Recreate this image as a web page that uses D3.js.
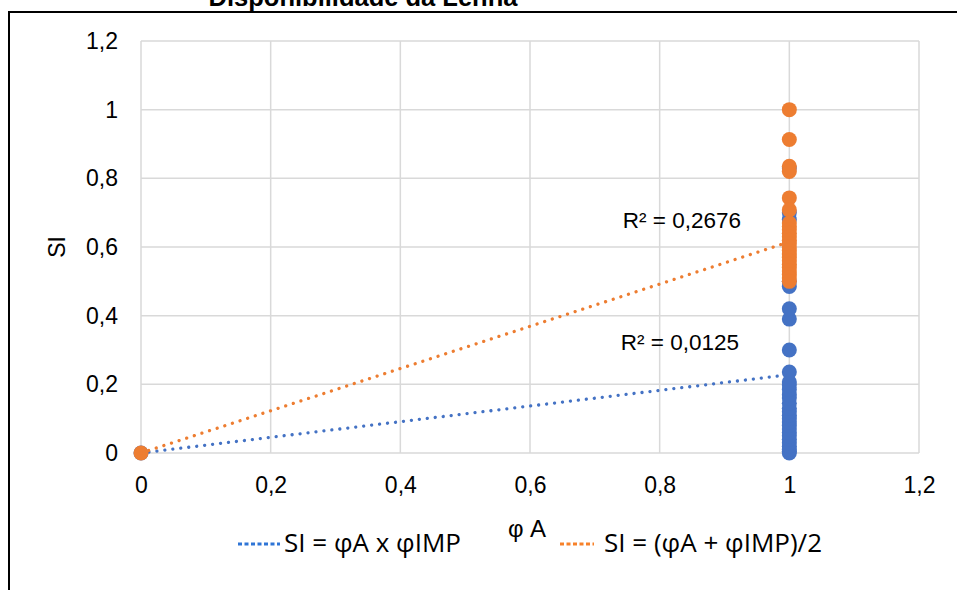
<!DOCTYPE html>
<html>
<head>
<meta charset="utf-8">
<script src="https://cdn.jsdelivr.net/npm/d3@7/dist/d3.min.js"></script>
<style>
  html, body { margin: 0; padding: 0; background: #fff; }
  svg { display: block; }
</style>
</head>
<body>
<svg id="chart" width="957" height="590"></svg>
<script>
// Chart text
const chartTitle = "Disponibilidade da Lenha";
const xAxisTitle = "φ A";
const yAxisTitle = "SI";

// Tick values and their labels (decimal comma)
const xTicks = [0, 0.2, 0.4, 0.6, 0.8, 1, 1.2];
const yTicks = [0, 0.2, 0.4, 0.6, 0.8, 1, 1.2];
const tickLabels = ["0", "0,2", "0,4", "0,6", "0,8", "1", "1,2"];

// Series 1: SI = φA x φIMP  (x, y)
const seriesMultX = [0, 1, 1, 1, 1, 1, 1, 1, 1, 1, 1, 1, 1, 1, 1, 1, 1, 1, 1, 1, 1, 1, 1, 1, 1, 1, 1, 1, 1, 1, 1];
const seriesMultY = [0, 0, 0.005, 0.01, 0.02, 0.03, 0.04, 0.05, 0.06, 0.07, 0.08, 0.09, 0.1, 0.11, 0.12, 0.13, 0.145, 0.16, 0.17, 0.185, 0.198, 0.207, 0.236, 0.30, 0.39, 0.42, 0.485, 0.50, 0.68, 0.70, 0.83];

// Series 2: SI = (φA + φIMP)/2  (x, y)
const seriesMeanX = [0, 1, 1, 1, 1, 1, 1, 1, 1, 1, 1, 1, 1, 1, 1, 1, 1, 1, 1, 1, 1, 1, 1, 1, 1];
const seriesMeanY = [0, 1.0, 0.913, 0.835, 0.82, 0.743, 0.708, 0.67, 0.66, 0.65, 0.64, 0.63, 0.62, 0.61, 0.60, 0.59, 0.58, 0.57, 0.56, 0.55, 0.54, 0.53, 0.52, 0.51, 0.50];

// Linear trendlines (endpoints x, y) and their R² labels
const trendMultX = [0, 1];
const trendMultY = [0, 0.228];
const trendMeanX = [0, 1];
const trendMeanY = [0, 0.615];
const r2Labels = ["R² = 0,0125", "R² = 0,2676"];

// Legend entries
const legendLabels = ["SI = φA x φIMP", "SI = (φA + φIMP)/2"];

const blue = "#4472C4";
const orange = "#ED7D31";

const svg = d3.select("#chart");
const margin = { left: 141, right: 957 - 919, top: 41, bottom: 590 - 453 };
const W = 957, H = 590;

const x = d3.scaleLinear().domain([0, 1.2]).range([margin.left, W - margin.right]);
const y = d3.scaleLinear().domain([0, 1.2]).range([H - margin.bottom, margin.top]);

// Outer chart frame
svg.append("path")
  .attr("d", `M9,${H + 5} L9,12 L${W + 5},12`)
  .attr("fill", "none")
  .attr("stroke", "#000")
  .attr("stroke-width", 2);

// Title, sitting above the frame's top edge
svg.append("text")
  .attr("x", 363).attr("y", 6)
  .attr("text-anchor", "middle")
  .attr("font-family", "Liberation Sans, Arial, sans-serif")
  .attr("font-weight", "bold")
  .attr("font-size", 25.5)
  .text(chartTitle);

// Gridlines
const grid = svg.append("g");
grid.selectAll("line.h").data(yTicks).join("line")
  .attr("x1", x(0)).attr("x2", x(1.2))
  .attr("y1", d => y(d)).attr("y2", d => y(d))
  .attr("stroke", "#d9d9d9").attr("stroke-width", 1.5);
grid.selectAll("line.v").data(xTicks).join("line")
  .attr("y1", y(0)).attr("y2", y(1.2))
  .attr("x1", d => x(d)).attr("x2", d => x(d))
  .attr("stroke", "#d9d9d9").attr("stroke-width", 1.5);

// Axes (labels only, lines come from the grid)
const fmt = d => tickLabels[xTicks.indexOf(d)];
const xAxis = svg.append("g")
  .attr("transform", `translate(0,${y(0)})`)
  .call(d3.axisBottom(x).tickValues(xTicks).tickFormat(fmt).tickSize(0).tickPadding(24));
const yAxis = svg.append("g")
  .attr("transform", `translate(${x(0)},0)`)
  .call(d3.axisLeft(y).tickValues(yTicks).tickFormat(fmt).tickSize(0).tickPadding(23));
[xAxis, yAxis].forEach(a => {
  a.select(".domain").remove();
  a.selectAll("text")
    .attr("font-family", "Liberation Sans, Arial, sans-serif")
    .attr("font-size", 23)
    .attr("fill", "#000");
});

// Axis titles
svg.append("text")
  .attr("x", 527).attr("y", 537)
  .attr("text-anchor", "middle")
  .attr("font-family", "Liberation Sans, Arial, sans-serif")
  .attr("font-size", 24)
  .text(xAxisTitle);
svg.append("text")
  .attr("transform", `translate(65,${y(0.6)}) rotate(-90)`)
  .attr("text-anchor", "middle")
  .attr("font-family", "Liberation Sans, Arial, sans-serif")
  .attr("font-size", 23)
  .text(yAxisTitle);

// Trendlines (round dotted)
const line = d3.line().x(d => x(d[0])).y(d => y(d[1]));
function trend(xs, ys, color) {
  svg.append("path")
    .datum(xs.map((v, i) => [v, ys[i]]))
    .attr("d", line)
    .attr("fill", "none")
    .attr("stroke", color)
    .attr("stroke-width", 3.3)
    .attr("stroke-linecap", "round")
    .attr("stroke-dasharray", "0.01 8");
}

// Markers
function points(xs, ys, color) {
  svg.append("g").selectAll("circle")
    .data(xs.map((v, i) => [v, ys[i]]))
    .join("circle")
    .attr("cx", d => x(d[0])).attr("cy", d => y(d[1]))
    .attr("r", 7.5)
    .attr("fill", color);
}

points(seriesMultX, seriesMultY, blue);
trend(trendMultX, trendMultY, blue);
points(seriesMeanX, seriesMeanY, orange);
trend(trendMeanX, trendMeanY, orange);

// R² labels
const r2Style = sel => sel
  .attr("font-family", "Liberation Sans, Arial, sans-serif")
  .attr("font-size", 22.5)
  .attr("text-anchor", "end");
svg.append("text").call(r2Style).attr("x", 739).attr("y", 350).text(r2Labels[0]);
svg.append("text").call(r2Style).attr("x", 741).attr("y", 228).text(r2Labels[1]);

// Legend
const legend = [
  { label: legendLabels[0], color: "#2F75D6", x0: 238, x1: 280, tx: 284 },
  { label: legendLabels[1], color: "#F7812A", x0: 560, x1: 594, tx: 604 }
];
legend.forEach(l => {
  svg.append("line")
    .attr("x1", l.x0).attr("x2", l.x1)
    .attr("y1", 544).attr("y2", 544)
    .attr("stroke", l.color)
    .attr("stroke-width", 3)
    .attr("stroke-dasharray", "4 2.5");
  svg.append("text")
    .attr("x", l.tx).attr("y", 552)
    .attr("font-family", "'Open Sans', Lato, sans-serif")
    .attr("font-size", 26)
    .attr("fill", "#000")
    .text(l.label);
});
</script>
</body>
</html>
